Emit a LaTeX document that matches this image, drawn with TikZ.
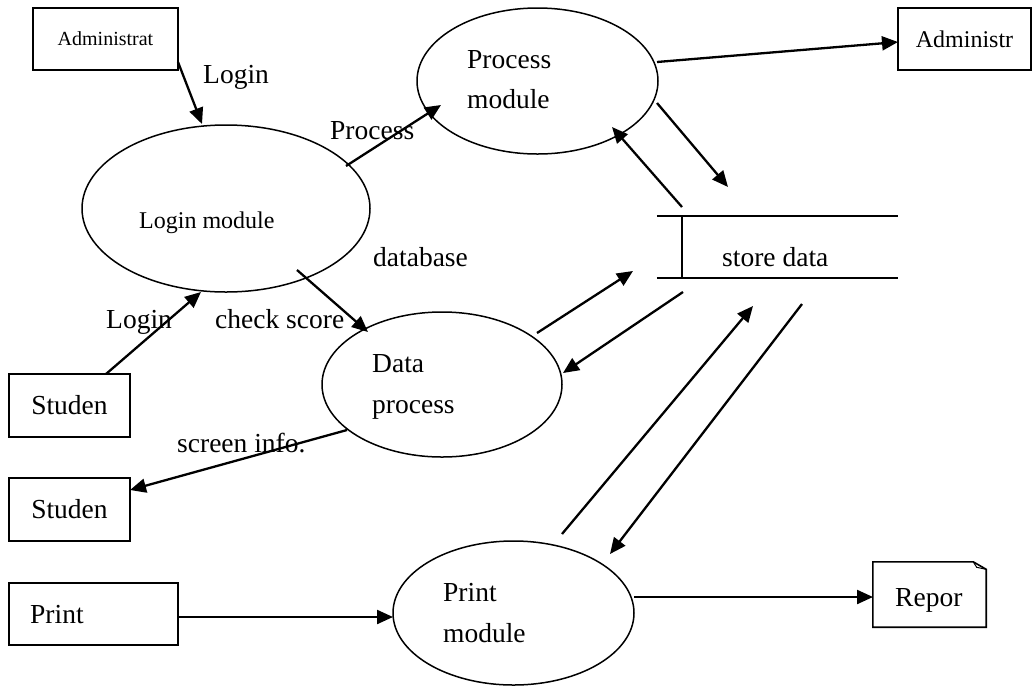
\documentclass[tikz,border=0pt]{standalone}
\usepackage{fontspec}
\setmainfont{Liberation Serif}
\usetikzlibrary{shapes.geometric,arrows.meta,calc}
\tikzset{
  big/.style={font=\fontsize{27.5pt}{33pt}\selectfont},
  mid/.style={font=\fontsize{24pt}{29pt}\selectfont},
  small/.style={font=\fontsize{20pt}{24pt}\selectfont},
  txt/.style={inner sep=0pt, anchor=base west},
  proc/.style={ellipse, draw, line width=1.5pt, inner sep=0pt},
  ent/.style={rectangle, draw, line width=1.6pt, inner sep=0pt},
  flow/.style={line width=2.3pt, -{Triangle[length=16pt,width=14pt]}},
}
\begin{document}
\begin{tikzpicture}[x=1pt,y=-1pt]
\useasboundingbox (0,0) rectangle (1036,689);

% external entities
\node[ent, small, minimum width=145pt, minimum height=62pt] (A1) at (105.5,39) {Administrat};
\node[ent, mid, minimum width=133pt, minimum height=62pt] (A2) at (964.5,39) {Administr};
\node[ent, big, minimum width=121pt, minimum height=63pt] (S1) at (69.5,405.5) {Studen};
\node[ent, big, minimum width=121pt, minimum height=63pt] (S2) at (69.5,509.5) {Studen};
\node[ent, minimum width=169pt, minimum height=62pt] (PB) at (93.5,614) {};
\node[txt, big] (PBt) at (30,623) {Print};

% report (folded corner)
\node[rectangle, inner sep=0pt, minimum width=113pt, minimum height=65pt] (RB) at (929.5,594.5) {};
\draw[line width=1.6pt, line join=miter] (RB.north west) -- ($(RB.north east)+(-13,0)$) -- ($(RB.north east)+(0,7.5)$) -- (RB.south east) -- (RB.south west) -- cycle;
\draw[line width=1pt] ($(RB.north east)+(-13,0)$) -- ($(RB.north east)+(-9.5,5.5)$) -- ($(RB.north east)+(0,7.5)$);
\node[txt, big] (RBt) at (895,606) {Repor};

% processes
\node[proc, minimum width=288pt, minimum height=167pt] (L) at (226,208.5) {};
\node[txt, mid] (Lt) at (139,228) {Login module};
\node[proc, minimum width=241pt, minimum height=146pt] (P) at (537.5,81) {};
\node[txt, big] (Pt1) at (467,68) {Process};
\node[txt, big] (Pt2) at (467,108) {module};
\node[proc, minimum width=240pt, minimum height=145pt] (D) at (442,384.5) {};
\node[txt, big] (Dt1) at (372,372.7) {Data};
\node[txt, big] (Dt2) at (372,413) {process};
\node[proc, minimum width=241pt, minimum height=144pt] (R) at (513.5,613) {};
\node[txt, big] (Rt1) at (443,601) {Print};
\node[txt, big] (Rt2) at (443,642) {module};

% data store
\node[rectangle, inner sep=0pt, minimum width=241pt, minimum height=62pt] (S) at (777.5,247) {};
\draw[line width=1.5pt] (S.north west) -- (S.north east);
\draw[line width=1.5pt] (S.south west) -- (S.south east);
\draw[line width=1.5pt] ($(S.north west)+(25,0)$) -- ($(S.south west)+(25,0)$);
\node[txt, big] (St) at (722,266) {store data};

% flows
\draw[flow] ($(A1)+(72.5,23)$) -- ($(L)+(-24,-84.5)$);
\draw[flow] ($(S1)+(36.5,-31.5)$) -- ($(L)+(-25,83.5)$);
\draw[flow] ($(L)+(120,-42.5)$) -- ($(P)+(-96.5,24)$);
\draw[flow] ($(L)+(71,61.5)$) -- ($(D)+(-74,-52.5)$);
\draw[flow] ($(P)+(119.5,-19)$) -- ($(A2)+(-66.5,3)$);
\draw[flow] ($(S)+(-95.5,-40)$) -- ($(P)+(74.5,46)$);
\draw[flow] ($(P)+(119.5,22)$) -- ($(S)+(-49.5,-60)$);
\draw[flow] ($(D)+(95,-51.5)$) -- ($(S)+(-144.5,24)$);
\draw[flow] ($(S)+(-94.5,45)$) -- ($(D)+(121,-11.5)$);
\draw[flow] ($(D)+(-95,45.5)$) -- ($(S2)+(60.5,-19.5)$);
\draw[flow] ($(PB)+(84.5,3)$) -- ($(R)+(-120.5,4)$);
\draw[flow] ($(R)+(120.5,-16)$) -- ($(RB)+(-56.5,2.5)$);
\draw[flow] ($(R)+(48.5,-79)$) -- ($(S)+(-24.5,59)$);
\draw[flow] ($(S)+(24.5,57)$) -- ($(R)+(96.5,-59)$);

% flow labels
\node[txt, big] (l1) at (203,83) {Login};
\node[txt, big] (l2) at (330,139) {Process};
\node[txt, big] (l3) at (373,266) {database};
\node[txt, big] (l4) at (215,328) {check score};
\node[txt, big] (l5) at (106,328) {Login};
\node[txt, big] (l6) at (177,452) {screen info.};
\end{tikzpicture}
\end{document}
